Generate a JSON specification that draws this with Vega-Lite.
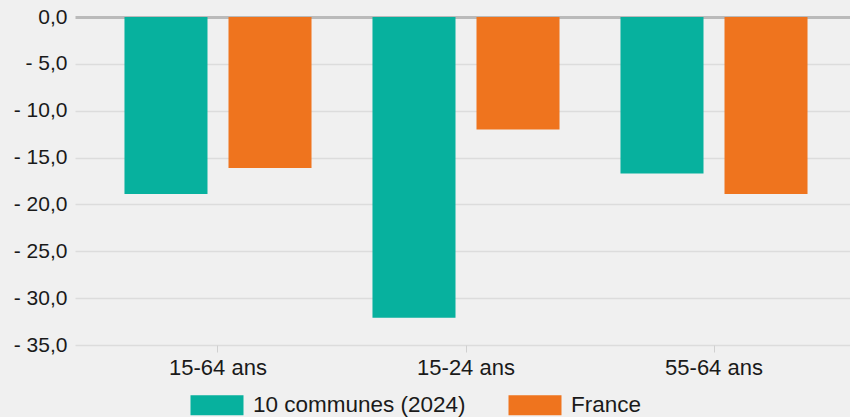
{
  "$schema": "https://vega.github.io/schema/vega-lite/v6.json",
  "autosize": "none",
  "padding": {"left": 75, "top": 17, "right": 0, "bottom": 72},
  "width": 775,
  "height": 328,
  "background": "#f0f0f0",
  "config": {
    "view": {"stroke": null},
    "font": "Liberation Sans"
  },
  "data": {
    "values": [
      {"age": "15-64 ans", "serie": "10 communes (2024)", "value": -18.9},
      {"age": "15-64 ans", "serie": "France", "value": -16.1},
      {"age": "15-24 ans", "serie": "10 communes (2024)", "value": -32.1},
      {"age": "15-24 ans", "serie": "France", "value": -12.0},
      {"age": "55-64 ans", "serie": "10 communes (2024)", "value": -16.7},
      {"age": "55-64 ans", "serie": "France", "value": -18.9}
    ]
  },
  "mark": {"type": "bar"},
  "encoding": {
    "x": {
      "field": "age",
      "type": "nominal",
      "sort": ["15-64 ans", "15-24 ans", "55-64 ans"],
      "scale": {"range": [0, 782], "paddingInner": 0, "paddingOuter": 0.0766},
      "axis": {
        "title": null,
        "labelAngle": 0,
        "domain": false,
        "grid": false,
        "ticks": true,
        "tickColor": "#d0d0d0",
        "tickSize": 7,
        "labelFontSize": 22,
        "labelColor": "#1a1a1a",
        "labelPadding": 5
      }
    },
    "xOffset": {
      "field": "serie",
      "type": "nominal",
      "scale": {"paddingInner": 0.202, "paddingOuter": 0.293}
    },
    "y": {
      "field": "value",
      "type": "quantitative",
      "scale": {"domain": [-35, 0], "nice": false, "zero": false},
      "axis": {
        "title": null,
        "values": [0, -5, -10, -15, -20, -25, -30, -35],
        "labelExpr": "datum.value == 0 ? '0,0' : '- ' + replace(format(-datum.value, '.1f'), '.', ',')",
        "domain": false,
        "ticks": false,
        "grid": true,
        "gridColor": {"condition": {"test": "datum.value === 0", "value": "#bababa"}, "value": "#dcdcdc"},
        "gridWidth": {"condition": {"test": "datum.value === 0", "value": 3}, "value": 1.5},
        "labelFontSize": 21,
        "labelColor": "#1a1a1a",
        "labelPadding": 8
      }
    },
    "color": {
      "field": "serie",
      "type": "nominal",
      "scale": {"domain": ["10 communes (2024)", "France"], "range": ["#07b19e", "#ef741e"]},
      "legend": {
        "title": null,
        "orient": "none",
        "direction": "horizontal",
        "legendX": 122,
        "legendY": 368,
        "symbolType": "M-1.325,-0.5H1.325V0.5H-1.325Z",
        "symbolSize": 1600,
        "symbolStrokeWidth": 0,
        "labelFontSize": 22.5,
        "labelLimit": 0,
        "labelColor": "#1a1a1a",
        "labelOffset": 16,
        "columnPadding": 42,
        "symbolOpacity": 1
      }
    }
  }
}
